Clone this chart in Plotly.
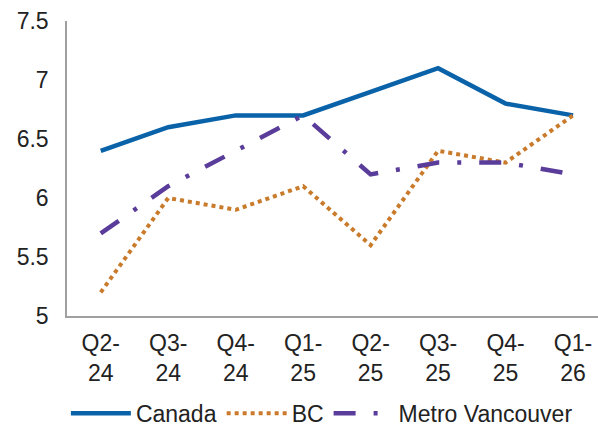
import plotly.graph_objects as go

categories = ["Q2-<br>24", "Q3-<br>24", "Q4-<br>24", "Q1-<br>25", "Q2-<br>25", "Q3-<br>25", "Q4-<br>25", "Q1-<br>26"]
canada = [6.4, 6.6, 6.7, 6.7, 6.9, 7.1, 6.8, 6.7]
bc = [5.2, 6.0, 5.9, 6.1, 5.6, 6.4, 6.3, 6.7]
metro = [5.7, 6.1, 6.4, 6.7, 6.2, 6.3, 6.3, 6.2]
y_ticks = [5, 5.5, 6, 6.5, 7, 7.5]
y_labels = ["5", "5.5", "6", "6.5", "7", "7.5"]

fig = go.Figure()
fig.add_trace(go.Scatter(x=categories, y=canada, name="Canada", mode="lines",
                         line=dict(color="#0a62a8", width=4.5)))
fig.add_trace(go.Scatter(x=categories, y=bc, name="BC", mode="lines",
                         line=dict(color="#c97a2a", width=4, dash="4px,4px")))
fig.add_trace(go.Scatter(x=categories, y=metro, name="Metro Vancouver", mode="lines",
                         line=dict(color="#5a3c9a", width=4.5, dash="22px,18px,4px,18px")))

fig.update_layout(
    width=598, height=430,
    margin=dict(l=67, r=0, t=21, b=114, autoexpand=False),
    paper_bgcolor="white", plot_bgcolor="white",
    font=dict(family="Liberation Sans, Arial, sans-serif", color="#222222"),
    showlegend=True,
    legend=dict(orientation="h", x=0.48, xanchor="center", y=-0.33, yanchor="middle",
                font=dict(size=23, color="#222222"), traceorder="normal",
                itemwidth=60, tracegroupgap=0),
    xaxis=dict(type="category", range=[-0.5, 7.37], showline=True, linecolor="#a0a0a0",
               linewidth=1.5, showgrid=False, ticks="", tickfont=dict(size=23, color="#222222"),
               zeroline=False, automargin=False, ticklabelstandoff=6),
    yaxis=dict(range=[5, 7.5], tickvals=y_ticks, ticktext=y_labels, showline=True,
               linecolor="#a0a0a0", linewidth=1.5, showgrid=False, ticks="",
               tickfont=dict(size=23, color="#222222"), zeroline=False,
               ticklabelstandoff=12, automargin=False),
)

fig.write_html("out.html", config={"displayModeBar": False},
               post_script="document.body.style.margin='0';")
